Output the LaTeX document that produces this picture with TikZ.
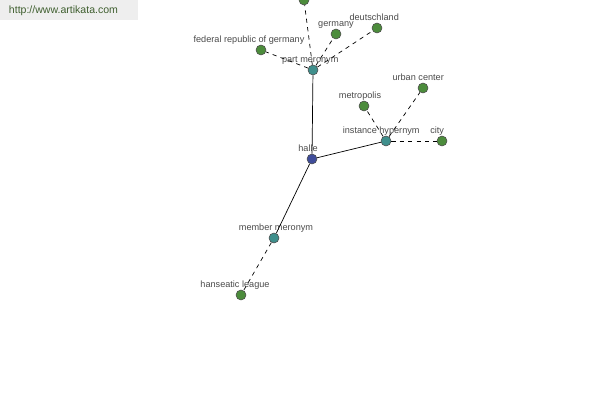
\documentclass[tikz,border=0pt]{standalone}
\usepackage{fontspec}
\setmainfont{Liberation Sans}
\usetikzlibrary{positioning}
\definecolor{leafgreen}{HTML}{4C8C3C}
\definecolor{relteal}{HTML}{3F8F8C}
\definecolor{rootblue}{HTML}{3F4C9A}
\definecolor{lblgray}{HTML}{4A4A4A}
\definecolor{wmgray}{HTML}{EEEEEE}
\definecolor{wmtext}{HTML}{3F5F2F}
\tikzstyle{dot} = [circle, draw=black!70, line width=0.4pt, minimum size=0.25cm, inner sep=0pt]
\tikzstyle{leaf} = [dot, fill=leafgreen]
\tikzstyle{rel} = [dot, fill=relteal]
\tikzstyle{root} = [dot, fill=rootblue]
\tikzstyle{lbl} = [font=\fontsize{6.5}{7}\selectfont, text=lblgray, inner sep=1pt, label distance=-1pt]
\tikzstyle{solidline} = [draw, line width=0.5pt]
\tikzstyle{dashline} = [draw, line width=0.5pt, dash pattern=on 3pt off 3pt]

\begin{document}
\begin{tikzpicture}[x=0.025cm, y=-0.025cm]
        \useasboundingbox (0,0) rectangle (600,400);
        \node (wm) [fill=wmgray, minimum width=138*0.025cm, minimum height=20*0.025cm, anchor=north west, inner sep=0pt] at (0,0) {};
        \node (wmtxt) [font=\fontsize{7.5}{8}\selectfont, text=wmtext, anchor=west] at (4,11) {http://www.artikata.com};

        \node (halle) [root, label={[lbl, xshift=-0.1cm, yshift=0.04cm]above:halle}] at (312,159) {};
        \node (partmer) [rel, label={[lbl, xshift=-0.07cm]above:part meronym}] at (313,70) {};
        \node (insthyp) [rel, label={[lbl, xshift=-0.12cm]above:instance hypernym}] at (386,141) {};
        \node (membmer) [rel, label={[lbl, xshift=0.05cm]above:member meronym}] at (274,238) {};

        \node (topleaf) [leaf] at (304,0) {};
        \node (frg) [leaf, label={[lbl, xshift=-0.3cm]above:federal republic of germany}] at (261,50) {};
        \node (germany) [leaf, label={[lbl]above:germany}] at (336,34) {};
        \node (deutsch) [leaf, label={[lbl, xshift=-0.07cm, yshift=0.04cm]above:deutschland}] at (377,28) {};
        \node (metro) [leaf, label={[lbl, xshift=-0.1cm]above:metropolis}] at (364,106) {};
        \node (urban) [leaf, label={[lbl, xshift=-0.12cm, yshift=0.04cm]above:urban center}] at (423,88) {};
        \node (city) [leaf, label={[lbl, xshift=-0.12cm]above:city}] at (442,141) {};
        \node (hansa) [leaf, label={[lbl, xshift=-0.15cm]above:hanseatic league}] at (241,295) {};

        \path [solidline] (halle) -- (partmer);
        \path [solidline] (halle) -- (insthyp);
        \path [solidline] (halle) -- (membmer);
        \path [dashline] (partmer) -- (topleaf);
        \path [dashline] (partmer) -- (frg);
        \path [dashline] (partmer) -- (germany);
        \path [dashline] (partmer) -- (deutsch);
        \path [dashline] (insthyp) -- (metro);
        \path [dashline] (insthyp) -- (urban);
        \path [dashline] (insthyp) -- (city);
        \path [dashline] (membmer) -- (hansa);
    \end{tikzpicture}
\end{document}
